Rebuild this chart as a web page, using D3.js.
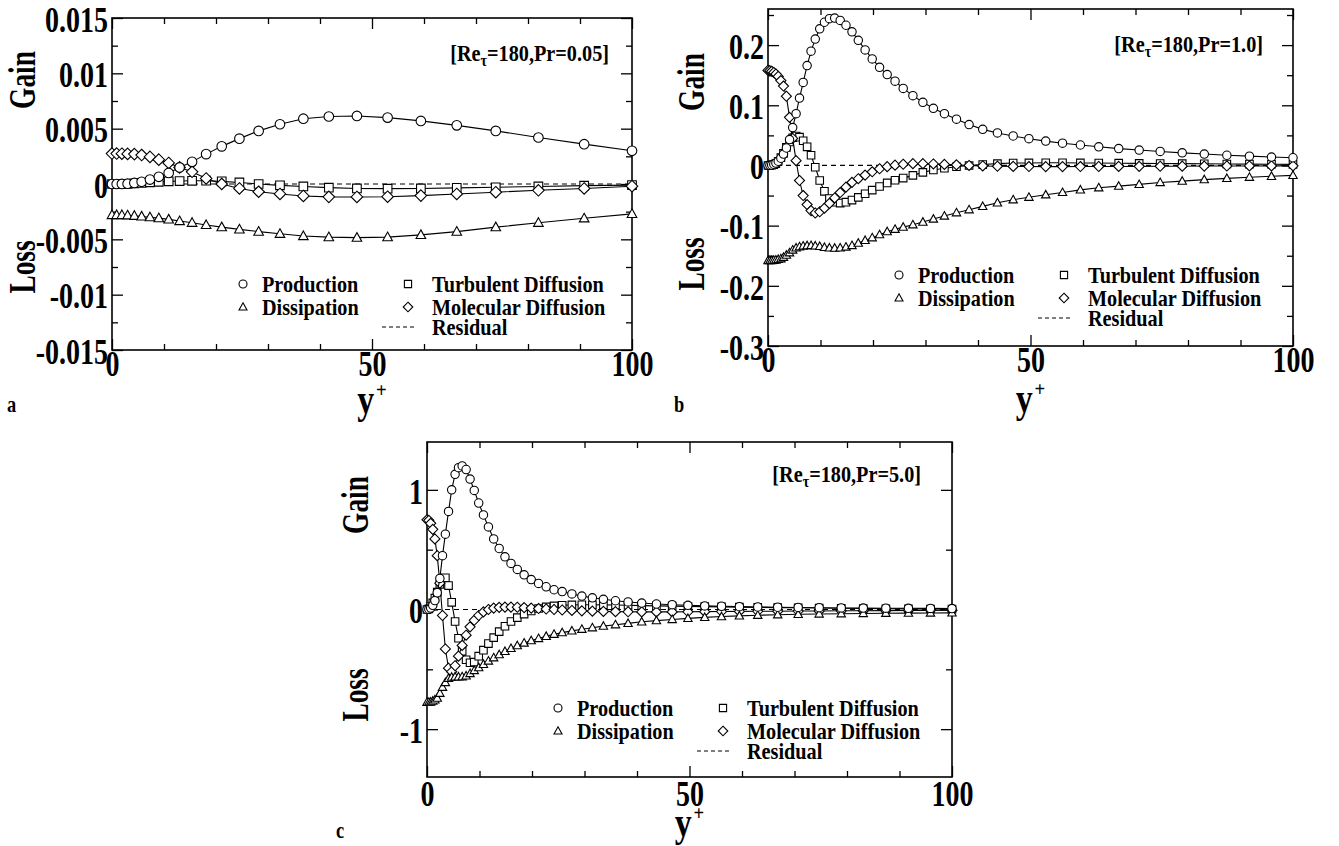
<!doctype html>
<html>
<head>
<script src="https://cdn.jsdelivr.net/npm/d3@7"></script>
<style>
  body { margin: 0; background: #fff; }
  svg text { font-family: "Liberation Serif", "Times New Roman", serif; font-weight: bold; fill: #000; }
</style>
</head>
<body>
<script>
// ---- data ----
// panel a grid (y+) and budget terms, Pr = 0.05
var gridA = [0, 0.9, 1.9, 3.0, 4.3, 5.7, 7.3, 9.0, 10.9, 13.0, 15.4, 18.1, 21.1, 24.5, 28.2, 32.3, 36.8, 41.7, 47.1, 53.0, 59.4, 66.3, 73.8, 82.0, 90.8, 100];
var prodA = [0, 0, 0.00001, 0.00003, 0.0001, 0.0002, 0.0004, 0.00065, 0.001, 0.0015, 0.002, 0.0027, 0.0034, 0.0041, 0.0048, 0.0054, 0.0059, 0.0061, 0.00615, 0.006, 0.0057, 0.0053, 0.0048, 0.0042, 0.0036, 0.003];
var dissA = [-0.0028, -0.0028, -0.0028, -0.00283, -0.00287, -0.00293, -0.003, -0.00308, -0.0032, -0.00335, -0.0035, -0.0037, -0.0039, -0.0041, -0.0043, -0.0045, -0.0047, -0.0048, -0.00485, -0.0048, -0.0046, -0.0043, -0.0039, -0.0035, -0.0031, -0.0027];
var turbA = [0, 0, 0.00001, 0.00002, 0.00005, 0.0001, 0.00015, 0.0002, 0.00024, 0.00027, 0.00029, 0.0003, 0.00024, 0.00014, 0, -0.00012, -0.00022, -0.00033, -0.0004, -0.00042, -0.0004, -0.00035, -0.0003, -0.00022, -0.00015, -0.0001];
var molA = [0.00275, 0.00275, 0.00274, 0.00272, 0.0027, 0.00262, 0.00245, 0.0022, 0.0019, 0.0015, 0.0011, 0.0005, 0.0, -0.0004, -0.0007, -0.0009, -0.00108, -0.00116, -0.00117, -0.00115, -0.00105, -0.0009, -0.00074, -0.00057, -0.0004, -0.0002];

// panels b and c share the finer grid
var gridBC = [0, 0.35, 0.7, 1.1, 1.5, 1.95, 2.45, 2.95, 3.5, 4.1, 4.7, 5.35, 6.0, 6.7, 7.45, 8.2, 9.0, 9.85, 10.75, 11.7, 12.7, 13.75, 14.85, 16.0, 17.2, 18.5, 19.85, 21.25, 22.7, 24.2, 25.75, 27.6, 29.5, 31.5, 33.6, 35.9, 38.3, 40.9, 43.7, 46.7, 49.7, 52.9, 56.1, 59.5, 63.0, 66.8, 70.7, 74.7, 78.9, 83.1, 87.4, 91.7, 95.9, 100];

// panel b, Pr = 1.0
var prodB = [0, 0.0002, 0.0008, 0.002, 0.004, 0.007, 0.012, 0.019, 0.029, 0.043, 0.063, 0.086, 0.112, 0.138, 0.166, 0.19, 0.21, 0.227, 0.238, 0.244, 0.245, 0.241, 0.233, 0.222, 0.208, 0.192, 0.177, 0.163, 0.151, 0.14, 0.128, 0.116, 0.105, 0.095, 0.086, 0.077, 0.068, 0.06, 0.054, 0.049, 0.0445, 0.0405, 0.037, 0.034, 0.031, 0.028, 0.0256, 0.0233, 0.021, 0.019, 0.017, 0.0155, 0.014, 0.0128];
var dissB = [-0.158, -0.158, -0.158, -0.1575, -0.157, -0.156, -0.155, -0.1525, -0.149, -0.145, -0.1405, -0.137, -0.135, -0.1338, -0.1332, -0.133, -0.1335, -0.1345, -0.136, -0.137, -0.1373, -0.137, -0.1355, -0.133, -0.129, -0.1245, -0.12, -0.115, -0.11, -0.106, -0.1025, -0.0985, -0.094, -0.089, -0.084, -0.0785, -0.0735, -0.068, -0.062, -0.057, -0.0527, -0.0487, -0.0448, -0.0405, -0.037, -0.0343, -0.0315, -0.0282, -0.026, -0.0235, -0.0215, -0.0195, -0.018, -0.0165];
var turbB = [0, 0.0002, 0.0006, 0.0015, 0.003, 0.007, 0.013, 0.02, 0.03, 0.039, 0.046, 0.049, 0.047, 0.041, 0.031, 0.017, -0.003, -0.025, -0.043, -0.055, -0.061, -0.0625, -0.061, -0.0575, -0.053, -0.047, -0.041, -0.035, -0.029, -0.0245, -0.021, -0.0165, -0.0115, -0.0075, -0.0045, -0.0022, 0.0, 0.0015, 0.003, 0.004, 0.0042, 0.0045, 0.0044, 0.0042, 0.004, 0.0038, 0.0035, 0.0033, 0.003, 0.0028, 0.0025, 0.0023, 0.002, 0.0018];
var molB = [0.158, 0.1575, 0.1565, 0.1545, 0.152, 0.148, 0.141, 0.132, 0.115, 0.08, 0.045, 0.008, -0.025, -0.05, -0.065, -0.075, -0.079, -0.077, -0.071, -0.063, -0.054, -0.045, -0.036, -0.028, -0.022, -0.016, -0.0105, -0.0055, -0.002, 0.0005, 0.002, 0.003, 0.003, 0.0025, 0.0018, 0.001, 0.0, -0.0008, -0.0013, -0.0016, -0.0018, -0.0019, -0.0019, -0.0018, -0.0017, -0.0016, -0.0015, -0.0013, -0.0012, -0.001, -0.0009, -0.0008, -0.0007, -0.0006];

// panel c, Pr = 5.0
var prodC = [0, 0.003, 0.012, 0.035, 0.075, 0.14, 0.26, 0.45, 0.63, 0.82, 1.0, 1.13, 1.185, 1.2, 1.17, 1.09, 0.995, 0.89, 0.79, 0.69, 0.59, 0.51, 0.44, 0.385, 0.335, 0.29, 0.25, 0.218, 0.19, 0.165, 0.15, 0.13, 0.112, 0.098, 0.085, 0.073, 0.063, 0.054, 0.046, 0.04, 0.035, 0.03, 0.027, 0.024, 0.021, 0.019, 0.017, 0.015, 0.013, 0.012, 0.011, 0.01, 0.009, 0.008];
var dissC = [-0.775, -0.775, -0.773, -0.765, -0.755, -0.74, -0.7, -0.65, -0.61, -0.575, -0.565, -0.563, -0.563, -0.562, -0.555, -0.535, -0.51, -0.485, -0.458, -0.43, -0.403, -0.377, -0.35, -0.325, -0.302, -0.28, -0.26, -0.242, -0.224, -0.207, -0.193, -0.179, -0.165, -0.152, -0.139, -0.127, -0.116, -0.103, -0.093, -0.083, -0.074, -0.066, -0.059, -0.053, -0.048, -0.044, -0.04, -0.037, -0.035, -0.033, -0.031, -0.03, -0.029, -0.028];
var turbC = [0, 0.005, 0.025, 0.055, 0.095, 0.145, 0.21, 0.26, 0.265, 0.2, 0.06, -0.1, -0.24, -0.35, -0.42, -0.445, -0.44, -0.39, -0.34, -0.285, -0.235, -0.185, -0.14, -0.1, -0.068, -0.038, -0.012, 0.008, 0.022, 0.03, 0.035, 0.038, 0.04, 0.04, 0.039, 0.037, 0.035, 0.032, 0.03, 0.028, 0.026, 0.024, 0.022, 0.02, 0.018, 0.016, 0.014, 0.012, 0.01, 0.008, 0.006, 0.005, 0.004, 0.003];
var molC = [0.75, 0.745, 0.72, 0.67, 0.59, 0.45, 0.22, -0.05, -0.33, -0.49, -0.52, -0.47, -0.39, -0.3, -0.215, -0.145, -0.09, -0.05, -0.02, 0.0, 0.012, 0.018, 0.02, 0.02, 0.019, 0.016, 0.012, 0.008, 0.004, 0.0, -0.004, -0.008, -0.011, -0.014, -0.016, -0.018, -0.019, -0.02, -0.02, -0.02, -0.019, -0.018, -0.017, -0.016, -0.015, -0.014, -0.013, -0.012, -0.011, -0.01, -0.009, -0.008, -0.007, -0.006];

// residual is drawn as a plain dashed line
var resGrid = [0, 25, 50, 75, 100];
var resVals = [0, 0, 0, 0, 0];

// ticks
var xMajor = [0, 50, 100];
var xLabels = ["0", "50", "100"];
var xMinor = [10, 20, 30, 40, 60, 70, 80, 90];
var yMajorA = [-0.015, -0.01, -0.005, 0, 0.005, 0.01, 0.015];
var yLabelsA = ["-0.015", "-0.01", "-0.005", "0", "0.005", "0.01", "0.015"];
var yMinorA = [-0.0125, -0.0075, -0.0025, 0.0025, 0.0075, 0.0125];
var yMajorB = [-0.3, -0.2, -0.1, 0, 0.1, 0.2];
var yLabelsB = ["-0.3", "-0.2", "-0.1", "0", "0.1", "0.2"];
var yMinorB = [-0.25, -0.15, -0.05, 0.05, 0.15, 0.25];
var yMajorC = [-1, 0, 1];
var yLabelsC = ["-1", "0", "1"];
var yMinorC = [-0.5, 0.5];

var legendNames = ["Production", "Turbulent Diffusion", "Dissipation", "Molecular Diffusion", "Residual"];

// ---- drawing ----
var svg = d3.select("body").append("svg")
            .attr("width", 1339)
            .attr("height", 846);

// the print uses a narrow bold Times: squeeze text sideways
var NARROW = 0.8;

function marker(kind, r) {
  if (kind == "circle") return "M" + r + ",0A" + r + "," + r + " 0 1,1 " + (-r) + ",0A" + r + "," + r + " 0 1,1 " + r + ",0Z";
  if (kind == "square") { var s = r * 0.9; return "M" + (-s) + "," + (-s) + "H" + s + "V" + s + "H" + (-s) + "Z"; }
  if (kind == "triangle") return "M0," + (-r * 1.05) + "L" + r + "," + (r * 0.75) + "L" + (-r) + "," + (r * 0.75) + "Z";
  var d = r * 1.2;
  return "M0," + (-d) + "L" + d + ",0L0," + d + "L" + (-d) + ",0Z";
}

function label(parent, x, y, size, sx, anchor, rot) {
  var tr = "translate(" + x + "," + y + ")" + (rot ? " rotate(" + rot + ")" : "") + " scale(" + sx + ",1)";
  return parent.append("text").attr("transform", tr)
               .attr("text-anchor", anchor || "start").style("font-size", size + "px");
}

function drawPanel(p) {
  var g = svg.append("g").attr("transform", "translate(" + p.left + "," + p.top + ")");
  var x = d3.scaleLinear().domain([0, 100]).range([0, p.w]);
  var y = d3.scaleLinear().domain(p.yDomain).range([p.h, 0]);

  // ticks, inward on all four sides
  function ax(axis, tr, vals, size, labels, pad) {
    var a = axis.tickValues(vals).tickSize(-size).tickPadding(pad || 4)
                .tickFormat(labels ? function(d, i) { return labels[i]; } : "");
    var sel = g.append("g").attr("transform", tr).call(a);
    sel.select(".domain").remove();
    sel.selectAll("line").attr("stroke", "#000").attr("stroke-width", 1.3);
    sel.selectAll("text").attr("fill", "#000").style("font-size", "35px")
       .attr("transform", "scale(" + NARROW + ",1)");
    return sel;
  }
  ax(d3.axisBottom(x), "translate(0," + p.h + ")", xMajor, 11, xLabels, p.xPad);
  ax(d3.axisBottom(x), "translate(0," + p.h + ")", xMinor, 6, null);
  ax(d3.axisTop(x), "translate(0,0)", xMajor, 11, null);
  ax(d3.axisTop(x), "translate(0,0)", xMinor, 6, null);
  ax(d3.axisLeft(y), "translate(0,0)", p.yMajor, 11, p.yLabels, 5)
    .selectAll("text").attr("dy", "0.38em");
  ax(d3.axisLeft(y), "translate(0,0)", p.yMinor, 6, null);
  ax(d3.axisRight(y), "translate(" + p.w + ",0)", p.yMajor, 11, null);
  ax(d3.axisRight(y), "translate(" + p.w + ",0)", p.yMinor, 6, null);

  g.append("rect").attr("width", p.w).attr("height", p.h)
   .attr("fill", "none").attr("stroke", "#000").attr("stroke-width", 1.6);

  var line = d3.line().x(function(d) { return x(d[0]); }).y(function(d) { return y(d[1]); });

  // residual
  g.append("path").datum(d3.zip(resGrid, resVals)).attr("d", line)
   .attr("fill", "none").attr("stroke", "#000").attr("stroke-width", 1.2).attr("stroke-dasharray", "5,4");

  var series = [
    {v: p.turb, kind: "square"},
    {v: p.mol, kind: "diamond"},
    {v: p.diss, kind: "triangle"},
    {v: p.prod, kind: "circle"}
  ];
  series.forEach(function(s) {
    var pts = d3.zip(p.grid, s.v);
    g.append("path").datum(pts).attr("d", line)
     .attr("fill", "none").attr("stroke", "#000").attr("stroke-width", 1.1);
    g.selectAll(null).data(pts).enter().append("path")
     .attr("transform", function(d) { return "translate(" + x(d[0]) + "," + y(d[1]) + ")"; })
     .attr("d", marker(s.kind, p.r))
     .attr("fill", "#fff").attr("stroke", "#000").attr("stroke-width", 1.1);
  });

  // title
  var t = label(g, p.w - p.titleDx, p.titleDy, 23, 0.88, "end");
  t.append("tspan").text("[Re");
  t.append("tspan").attr("dy", 5).style("font-size", "16px").text("τ");
  t.append("tspan").attr("dy", -5).text("=180,Pr=" + p.pr + "]");

  // legend
  var rows = [266, 289, 309];
  var items = [
    {kind: "circle", mx: 131, tx: 150, row: 0, name: legendNames[0]},
    {kind: "square", mx: 296, tx: 320, row: 0, name: legendNames[1]},
    {kind: "triangle", mx: 131, tx: 150, row: 1, name: legendNames[2]},
    {kind: "diamond", mx: 296, tx: 320, row: 1, name: legendNames[3]}
  ];
  items.forEach(function(it) {
    g.append("path").attr("transform", "translate(" + it.mx + "," + rows[it.row] + ")")
     .attr("d", marker(it.kind, 4)).attr("fill", "#fff").attr("stroke", "#000").attr("stroke-width", 1.1);
    label(g, it.tx, rows[it.row] + 8, 23, 0.88).text(it.name);
  });
  g.append("line").attr("x1", 270).attr("x2", 305).attr("y1", rows[2]).attr("y2", rows[2])
   .attr("stroke", "#000").attr("stroke-width", 1.2).attr("stroke-dasharray", "4,3");
  label(g, 320, rows[2] + 8, 23, 0.88).text(legendNames[4]);

  // axis titles
  label(svg, p.gain[0], p.gain[1], 38, 0.72, "middle", -90).attr("dy", "0.35em").text("Gain");
  label(svg, p.loss[0], p.loss[1], 38, 0.72, "middle", -90).attr("dy", "0.35em").text("Loss");
  var yl = label(svg, p.left + p.w / 2, p.top + p.h + p.yLabDy, 40, 0.85, "middle");
  yl.append("tspan").text("y");
  yl.append("tspan").attr("dx", 2).attr("dy", -16).style("font-size", "22px").text("+");
  label(svg, p.letter[0], p.letter[1], 23, 0.8).text(p.letter[2]);
}

drawPanel({left: 112, top: 18, w: 520, h: 332, yDomain: [-0.015, 0.015],
  yMajor: yMajorA, yLabels: yLabelsA, yMinor: yMinorA,
  grid: gridA, prod: prodA, diss: dissA, turb: turbA, mol: molA, r: 4.8,
  pr: "0.05", titleDx: 23, titleDy: 43, xPad: 1, yLabDy: 63,
  gain: [22, 80], loss: [22, 267], letter: [7, 412, "a"]});

drawPanel({left: 768, top: 9, w: 525, h: 337, yDomain: [-0.3, 0.26],
  yMajor: yMajorB, yLabels: yLabelsB, yMinor: yMinorB,
  grid: gridBC, prod: prodB, diss: dissB, turb: turbB, mol: molB, r: 4.2,
  pr: "1.0", titleDx: 30, titleDy: 43, xPad: 1, yLabDy: 66,
  gain: [691, 82], loss: [691, 264], letter: [674, 412, "b"]});

drawPanel({left: 427, top: 442, w: 525, h: 335, yDomain: [-1.4, 1.4],
  yMajor: yMajorC, yLabels: yLabelsC, yMinor: yMinorC,
  grid: gridBC, prod: prodC, diss: dissC, turb: turbC, mol: molC, r: 4.2,
  pr: "5.0", titleDx: 31, titleDy: 40, xPad: 4, yLabDy: 59,
  gain: [355, 505], loss: [355, 695], letter: [336, 838, "c"]});
</script>
</body>
</html>
